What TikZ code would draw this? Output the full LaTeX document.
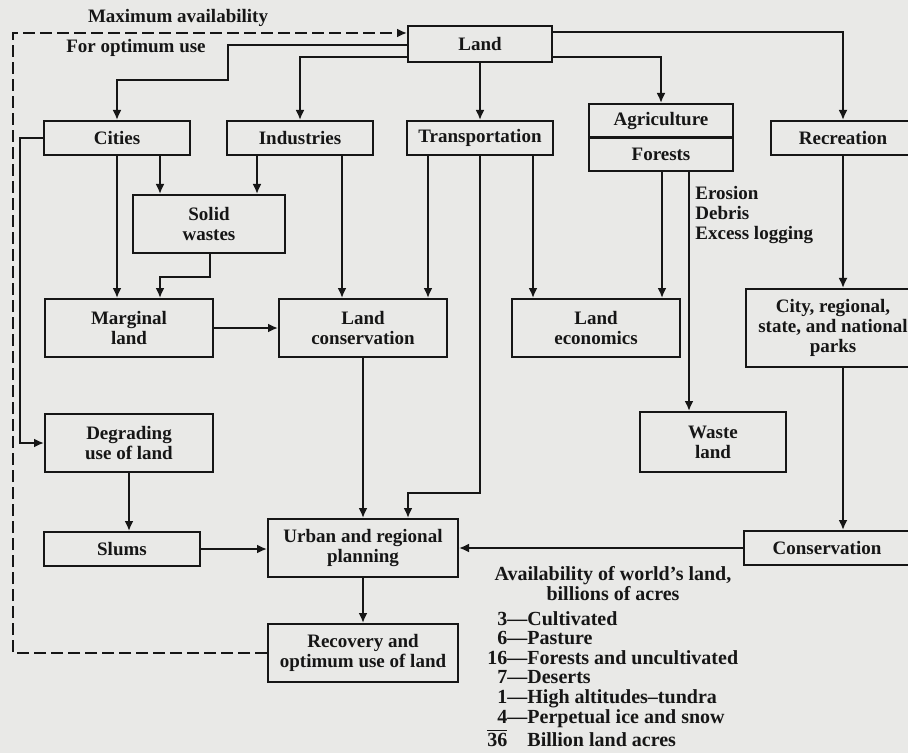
\documentclass[tikz,border=0pt]{standalone}
\usepackage{fontspec}
\setmainfont{Liberation Serif}
\usetikzlibrary{arrows.meta}
\definecolor{paper}{RGB}{233, 233, 231}
\definecolor{ink}{RGB}{22, 22, 22}
\tikzset{
  box/.style={draw=ink, line width=1pt, align=center, inner sep=0pt, text=ink,
              font=\bfseries\fontsize{9.5}{10}\selectfont},
  lbl/.style={inner sep=0pt, text=ink, font=\bfseries\fontsize{9.5}{10}\selectfont},
  arr/.style={draw=ink, line width=1pt, -{Latex[length=5pt,width=4.5pt]}},
  dashline/.style={dash pattern=on 6pt off 2.5pt},
}
\begin{document}
\begin{tikzpicture}[x=0.5pt, y=-0.5pt]
            \useasboundingbox (0,0) rectangle (908,753);
            \clip (0,0) rectangle (908,753);
            \fill[paper] (0,0) rectangle (908,753);

            \node[box, minimum width=72pt, minimum height=18pt] (land)     at (480, 44) {Land};
            \node[box, minimum width=73pt, minimum height=17pt] (cities)   at (117,138) {Cities};
            \node[box, minimum width=73pt, minimum height=17pt] (indus)    at (300,138) {Industries};
            \node[box, minimum width=73pt, minimum height=17pt] (transp)   at (480,138) {Transportation};
            \node[box, minimum width=72pt, minimum height=17pt] (agri)     at (661,121) {Agriculture};
            \node[box, minimum width=72pt, minimum height=17pt] (forests)  at (661,154) {Forests};
            \node[box, minimum width=72pt, minimum height=17pt] (recr)     at (843,138) {Recreation};
            \node[box, minimum width=76pt, minimum height=29pt] (solid)    at (209,224) {Solid\\wastes};
            \node[box, minimum width=84pt, minimum height=29pt] (marginal) at (129,328) {Marginal\\land};
            \node[box, minimum width=84pt, minimum height=29pt] (landcons) at (363,328) {Land\\conservation};
            \node[box, minimum width=84pt, minimum height=29pt] (landecon) at (596,328) {Land\\economics};
            \node[box, minimum width=87pt, minimum height=39pt] (parks)    at (833,328) {City, regional,\\state, and national\\parks};
            \node[box, minimum width=73pt, minimum height=30pt] (waste)    at (713,442) {Waste\\land};
            \node[box, minimum width=84pt, minimum height=29pt] (degrad)   at (129,443) {Degrading\\use of land};
            \node[box, minimum width=78pt, minimum height=17pt] (slums)    at (122,549) {Slums};
            \node[box, minimum width=95pt, minimum height=29pt] (urban)    at (363,548) {Urban and regional\\planning};
            \node[box, minimum width=83pt, minimum height=17pt] (conserv)  at (827,548) {Conservation};
            \node[box, minimum width=95pt, minimum height=29pt] (recov)    at (363,653) {Recovery and\\optimum use of land};

            \node[lbl] (maxlbl) at (178,18) {Maximum availability};
            \node[lbl] (optlbl) at (136,48) {For optimum use};
            \node[lbl, anchor=north west, align=left] (erosion) at (695,186) {Erosion\\Debris\\Excess logging};
            \node[lbl, align=center, font=\bfseries\fontsize{10}{10}\selectfont] (acrestitle) at (613,584) {Availability of world's land,\\billions of acres};
            \node[lbl, anchor=north west, font=\bfseries\fontsize{10}{9.7}\selectfont] (acres) at (487,611) {%
              \begin{tabular}{@{}r@{}l@{}}
                3  & ---Cultivated\\
                6  & ---Pasture\\
                16 & ---Forests and uncultivated\\
                7  & ---Deserts\\
                1  & ---High altitudes--tundra\\
                4  & ---Perpetual ice and snow\\
                $\overline{\mbox{36}}$ & \phantom{---}Billion land acres
              \end{tabular}};

            \draw[arr, dashline] (recov.west) -| (13,33) -- (land.west |- 13,33);
            \draw[arr] (land.west |- 0,45) -| (228,80) -| (cities.north);
            \draw[arr] (land.west |- 0,57) -| (indus.north);
            \draw[arr] (land.south) -- (transp.north);
            \draw[arr] (land.east |- 0,57) -| (agri.north);
            \draw[arr] (land.east |- 0,32) -| (recr.north);
            \draw[arr] (cities.south) -- (cities.south |- marginal.north);
            \draw[arr] (cities.south -| 160,0) -- (solid.north -| 160,0);
            \draw[arr] (indus.south -| 257,0) -- (solid.north -| 257,0);
            \draw[arr] (indus.south -| 342,0) -- (landcons.north -| 342,0);
            \draw[arr] (transp.south -| 428,0) -- (landcons.north -| 428,0);
            \draw[arr] (transp.south -| 533,0) -- (landecon.north -| 533,0);
            \draw[arr] (transp.south) |- (408,493) -- (urban.north -| 408,0);
            \draw[arr] (solid.south -| 210,0) |- (160,277) -- (marginal.north -| 160,0);
            \draw[arr] (marginal.east) -- (landcons.west);
            \draw[arr] (cities.west) -- ++(-23,0) |- (degrad.west);
            \draw[arr] (degrad.south) -- (degrad.south |- slums.north);
            \draw[arr] (slums.east) -- (slums.east -| urban.west);
            \draw[arr] (landcons.south) -- (landcons.south |- urban.north);
            \draw[arr] (urban.south) -- (recov.north);
            \draw[arr] (forests.south -| 662,0) -- (landecon.north -| 662,0);
            \draw[arr] (forests.south -| 689,0) -- (waste.north -| 689,0);
            \draw[arr] (recr.south) -- (recr.south |- parks.north);
            \draw[arr] (recr.south |- parks.south) -- (recr.south |- conserv.north);
            \draw[arr] (conserv.west) -- (conserv.west -| urban.east);
        \end{tikzpicture}
\end{document}
